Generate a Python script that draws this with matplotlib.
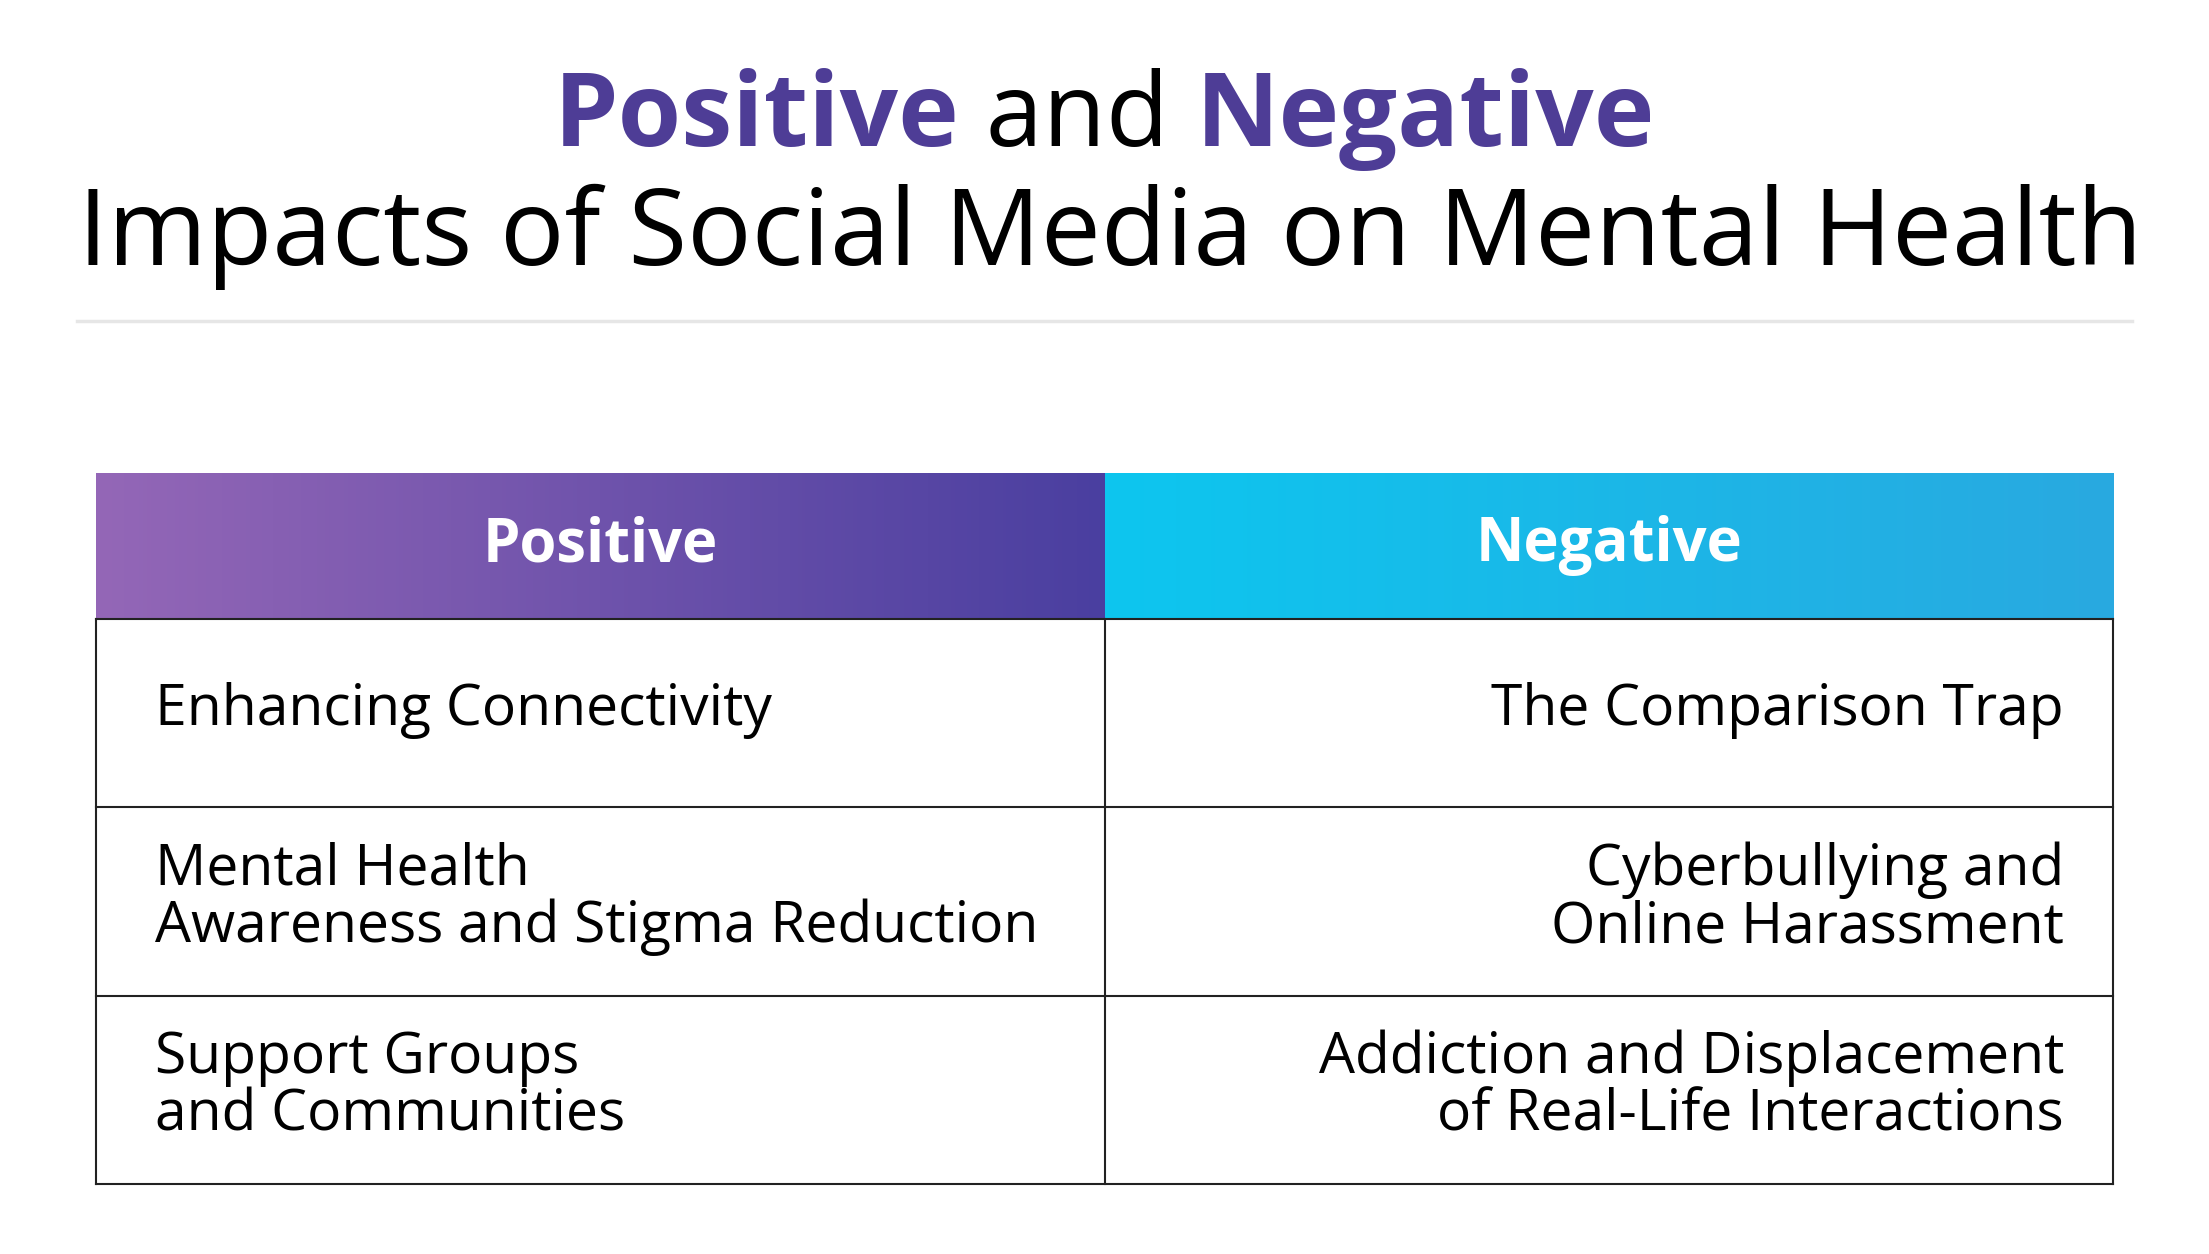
import matplotlib
matplotlib.use("Agg")
import matplotlib.pyplot as plt
import numpy as np
from matplotlib.colors import LinearSegmentedColormap

headers = ["Positive", "Negative"]
positives = ["Enhancing Connectivity", "Mental Health\nAwareness and Stigma Reduction", "Support Groups\nand Communities"]
negatives = ["The Comparison Trap", "Cyberbullying and\nOnline Harassment", "Addiction and Displacement\nof Real-Life Interactions"]

FONT = "Open Sans"
W, H = 1568, 890
fig = plt.figure(figsize=(22.09, 12.54), dpi=100)
ax = fig.add_axes([0, 0, 1, 1])
ax.set_xlim(0, W); ax.set_ylim(H, 0); ax.axis("off")
purple = "#4E3D96"

fig.canvas.draw()
r = fig.canvas.get_renderer()
parts = [("Positive", purple, "bold"), (" and ", "black", "normal"), ("Negative", purple, "bold")]
ts = []
for s, c, w in parts:
    ts.append(ax.text(0, 85, s, color=c, fontweight=w, fontsize=74, family=FONT, va="center", ha="left"))
widths = []
inv = ax.transData.inverted()
for t in ts:
    bb = t.get_window_extent(r)
    x0 = inv.transform((bb.x0, 0))[0]; x1 = inv.transform((bb.x1, 0))[0]
    widths.append(x1 - x0)
x = W / 2 - sum(widths) / 2
for t, w in zip(ts, widths):
    t.set_x(x); x += w
ax.text(W / 2 + 4, 168, "Impacts of Social Media on Mental Health", fontsize=77, family=FONT,
        ha="center", va="center", color="black")
ax.plot([55, 1513], [228, 228], color="#E6E6E6", lw=2.5)

x0, xm, x1 = 68, 784, 1500
top, hb = 336, 439
g = np.linspace(0, 1, 256).reshape(1, -1)
c1 = LinearSegmentedColormap.from_list("p", ["#9467B7", "#4A3FA0"])
c2 = LinearSegmentedColormap.from_list("n", ["#0DC6EF", "#29A9E0"])
ax.imshow(g, cmap=c1, extent=[x0, xm, hb, top], aspect="auto", zorder=1)
ax.imshow(g, cmap=c2, extent=[xm, x1, hb, top], aspect="auto", zorder=1)
ax.set_xlim(0, W); ax.set_ylim(H, 0)
for (a, b), h in zip([(x0, xm), (xm, x1)], headers):
    ax.text((a + b) / 2, (top + hb) / 2, h, color="white", fontweight="bold", fontsize=43,
            family=FONT, ha="center", va="center")

rows = [439, 573, 707, 840]
lk = dict(color="#222222", lw=1.5, zorder=3)
for y in rows:
    ax.plot([x0, x1], [y, y], **lk)
for xx in (x0, xm, x1):
    ax.plot([xx, xx], [rows[0], rows[-1]], **lk)
for i in range(3):
    yc = (rows[i] + rows[i + 1]) / 2 - 2
    ax.text(110, yc, positives[i], fontsize=41, family=FONT, ha="left", va="center",
            linespacing=1.0, color="black")
    ax.text(1465, yc, negatives[i], fontsize=41, family=FONT, ha="right", va="center",
            linespacing=1.0, color="black", multialignment="right")

fig.savefig("out.png", dpi=100, facecolor="white")
